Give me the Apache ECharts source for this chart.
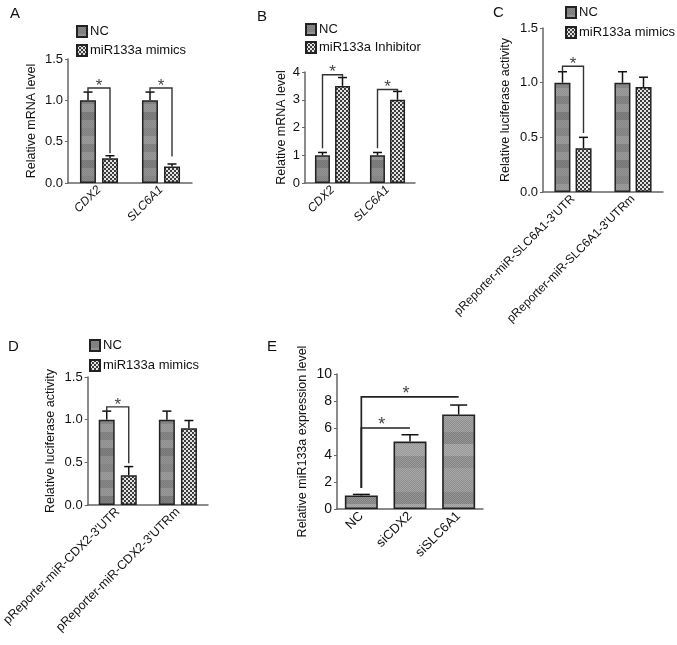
<!DOCTYPE html>
<html><head><meta charset="utf-8">
<script src="https://cdn.jsdelivr.net/npm/echarts@6/dist/echarts.min.js"></script>
<style>html,body{margin:0;padding:0;background:#fff}#c{width:677px;height:645px}</style>
</head><body><div id="c"></div>
<script>
// ---------- data ----------
const catsA = ['CDX2', 'SLC6A1'];
const ncA = [1.0, 1.0];
const ncErrA = [0.1, 0.1];
const mimA = [0.3, 0.2];
const mimErrA = [0.03, 0.03];
const bracketsA = [[0, 1.15, 1.1, 0.36], [1, 1.15, 1.1, 0.32]];

const catsB = ['CDX2', 'SLC6A1'];
const ncB = [1.0, 1.0];
const ncErrB = [0.1, 0.1];
const inhB = [3.5, 3.0];
const inhErrB = [0.3, 0.3];
const bracketsB = [[0, 3.9, 1.25, 3.8], [1, 3.37, 1.25, 3.3]];

const catsC = ["pReporter-miR-SLC6A1-3'UTR", "pReporter-miR-SLC6A1-3'UTRm"];
const ncC = [1.0, 1.0];
const ncErrC = [0.1, 0.1];
const mimC = [0.4, 0.96];
const mimErrC = [0.1, 0.09];
const bracketsC = [[0, 1.15, 1.1, 0.54]];

const catsD = ["pReporter-miR-CDX2-3'UTR", "pReporter-miR-CDX2-3'UTRm"];
const ncD = [1.0, 1.0];
const ncErrD = [0.1, 0.1];
const mimD = [0.35, 0.9];
const mimErrD = [0.1, 0.09];
const bracketsD = [[0, 1.15, 1.1, 0.49]];

const catsE = ['NC', 'siCDX2', 'siSLC6A1'];
const valE = [1.0, 5.0, 7.0];
const errE = [0.08, 0.5, 0.7];
const bracketsE = [[0, 2, 8.3, 1.55], [0, 1, 6.0, 1.55]];

const yTicksA = [0, 0.5, 1.0, 1.5];
const yTicksB = [0, 1, 2, 3, 4];
const yTicksC = [0, 0.5, 1.0, 1.5];
const yTicksD = [0, 0.5, 1.0, 1.5];
const yTicksE = [0, 2, 4, 6, 8, 10];

// ---------- patterns ----------
function ncPattern() {
  const c = document.createElement('canvas'); c.width = 2; c.height = 48;
  const g = c.getContext('2d');
  const bands = ['#878787', '#999999', '#808080', '#939393', '#8b8b8b', '#9d9d9d'];
  for (let i = 0; i < 6; i++) { g.fillStyle = bands[i]; g.fillRect(0, i * 8, 2, 8); }
  g.fillStyle = 'rgba(0,0,0,0.08)';
  for (let y = 0; y < 48; y++) g.fillRect(y % 2, y, 1, 1);
  return { image: c, repeat: 'repeat' };
}
function checkPattern() {
  const c = document.createElement('canvas'); c.width = 4; c.height = 4;
  const g = c.getContext('2d');
  g.fillStyle = '#e4e4e4'; g.fillRect(0, 0, 4, 4);
  g.fillStyle = '#3c3c3c'; g.fillRect(0, 0, 2, 2); g.fillRect(2, 2, 2, 2);
  return { image: c, repeat: 'repeat' };
}
function ePattern() {
  const c = document.createElement('canvas'); c.width = 2; c.height = 60;
  const g = c.getContext('2d');
  const bands = ['#8f8f8f', '#7e7e7e', '#9a9a9a', '#858585', '#939393'];
  for (let i = 0; i < 5; i++) { g.fillStyle = bands[i]; g.fillRect(0, i * 12, 2, 12); }
  g.fillStyle = 'rgba(255,255,255,0.18)';
  for (let y = 0; y < 60; y++) g.fillRect(y % 2, y, 1, 1);
  return { image: c, repeat: 'repeat' };
}
const NCFILL = ncPattern(), CHFILL = checkPattern(), EFILL = ePattern();

const FONT = 'Liberation Sans, Arial, sans-serif';
const AX = '#666', TXT = '#111', LINE = '#333';

// ---------- helpers ----------
function errSeries(gi, vals, errs, off, cap) {
  return {
    type: 'custom', xAxisIndex: gi, yAxisIndex: gi, clip: false, z: 5,
    data: vals.map((v, i) => [i, v, errs[i]]),
    renderItem(params, api) {
      const i = api.value(0), v = api.value(1), e = api.value(2);
      const p0 = api.coord([i, v]), p1 = api.coord([i, v + e]);
      const x = p0[0] + off;
      return { type: 'group', children: [
        { type: 'line', shape: { x1: x, y1: p0[1], x2: x, y2: p1[1] }, style: { stroke: '#111', lineWidth: 1.5 } },
        { type: 'line', shape: { x1: x - cap / 2, y1: p1[1], x2: x + cap / 2, y2: p1[1] }, style: { stroke: '#111', lineWidth: 1.5 } }
      ] };
    }
  };
}
function star(x, y, fs) {
  return { type: 'text', x: x, y: y, style: { text: '*', fontSize: fs, fontFamily: FONT, fill: '#444', align: 'center', verticalAlign: 'middle' } };
}
function bracketSeries(gi, data, off) {
  return {
    type: 'custom', xAxisIndex: gi, yAxisIndex: gi, clip: false, z: 6,
    data: data, encode: { x: 0, y: 1 },
    renderItem(params, api) {
      const i = api.value(0), t = api.value(1), lb = api.value(2), rb = api.value(3);
      const pt = api.coord([i, t]);
      const yl = api.coord([i, lb])[1], yr = api.coord([i, rb])[1];
      const xl = pt[0] - off, xr = pt[0] + off;
      return { type: 'group', children: [
        { type: 'polyline', shape: { points: [[xl, yl], [xl, pt[1]], [xr, pt[1]], [xr, yr]] }, style: { stroke: LINE, lineWidth: 1.4, fill: null } },
        star((xl + xr) / 2, pt[1] - 2, 17)
      ] };
    }
  };
}
function bracketSeriesE(gi, data) {
  return {
    type: 'custom', xAxisIndex: gi, yAxisIndex: gi, clip: false, z: 6,
    data: data, encode: { x: 0, y: 2 },
    renderItem(params, api) {
      const a = api.value(0), b = api.value(1), t = api.value(2), lb = api.value(3);
      const pa = api.coord([a, t]), pb = api.coord([b, t]);
      const yl = api.coord([a, lb])[1];
      return { type: 'group', children: [
        { type: 'polyline', shape: { points: [[pa[0], yl], [pa[0], pa[1]], [pb[0], pb[1]]] }, style: { stroke: '#222', lineWidth: 1.7, fill: null } },
        star((pa[0] + pb[0]) / 2 - 4, pa[1] - 3, 18)
      ] };
    }
  };
}
function xAx(gi, cats, italic, fs) {
  return {
    type: 'category', gridIndex: gi, data: cats,
    axisLine: { lineStyle: { color: AX, width: 1.5 } },
    axisTick: { alignWithLabel: true, length: 3, lineStyle: { color: AX } },
    axisLabel: { rotate: 45, fontSize: fs, margin: 5, color: TXT, fontFamily: FONT, fontStyle: italic ? 'italic' : 'normal', interval: 0 }
  };
}
function yAx(gi, ticks, dec, name, gap, fs) {
  return {
    type: 'value', gridIndex: gi, min: ticks[0], max: ticks[ticks.length - 1], interval: ticks[1] - ticks[0],
    name: name, nameLocation: 'middle', nameGap: gap,
    nameTextStyle: { fontSize: 12.5, color: TXT, fontFamily: FONT },
    axisLine: { show: true, lineStyle: { color: AX, width: 1.5 } },
    axisTick: { show: true, length: 3, lineStyle: { color: AX } },
    splitLine: { show: false },
    axisLabel: { fontSize: fs, color: TXT, fontFamily: FONT, margin: 5, formatter: v => v.toFixed(dec) }
  };
}
function bar(gi, name, vals, fill, bw, gap) {
  return {
    type: 'bar', name: name, xAxisIndex: gi, yAxisIndex: gi, data: vals,
    barWidth: bw, barGap: gap,
    itemStyle: { color: fill, borderColor: '#222', borderWidth: 1.5 }
  };
}
function legend(left, top, names, gap) {
  return {
    orient: 'vertical', left: left, top: top, data: names, itemWidth: 10, itemHeight: 11, itemGap: gap,
    icon: 'rect', selectedMode: false, padding: 0,
    textStyle: { fontSize: 13, color: TXT, fontFamily: FONT, padding: [0, 0, 0, -2] }
  };
}

const option = {
  backgroundColor: '#fff',
  animation: false,
  title: [
    { text: 'A', left: 5, top: 1 }, { text: 'B', left: 252, top: 4 }, { text: 'C', left: 488, top: 0 },
    { text: 'D', left: 3, top: 334 }, { text: 'E', left: 262, top: 334 }
  ].map(t => Object.assign(t, { textStyle: { fontSize: 15, fontWeight: 'normal', color: TXT, fontFamily: FONT } })),
  legend: [
    legend(76, 25, ['NC', 'miR133a mimics'], 6),
    legend(305, 23, ['NC', 'miR133a Inhibitor'], 5),
    legend(565, 6, ['NC', 'miR133a mimics'], 7),
    legend(89, 339, ['NC', 'miR133a mimics'], 7)
  ],
  grid: [
    { left: 68, top: 59, width: 124, height: 124 },
    { left: 305, top: 72, width: 110, height: 111 },
    { left: 543, top: 28, width: 120, height: 164 },
    { left: 83, top: 377, width: 125, height: 128 },
    { left: 337, top: 374, width: 146, height: 135 }
  ],
  xAxis: [xAx(0, catsA, true, 12), xAx(1, catsB, true, 12), xAx(2, catsC, false, 12), xAx(3, catsD, false, 12.5), xAx(4, catsE, false, 13)],
  yAxis: [
    yAx(0, yTicksA, 1, 'Relative mRNA level', 30, 13),
    yAx(1, yTicksB, 0, 'Relative mRNA level', 17, 13),
    yAx(2, yTicksC, 1, 'Relative luciferase activity', 31, 13),
    yAx(3, yTicksD, 1, 'Relative luciferase activity', 31, 13),
    yAx(4, yTicksE, 0, 'Relative miR133a expression level', 28, 14)
  ],
  series: [
    bar(0, 'NC', ncA, NCFILL, 16, '38%'), bar(0, 'miR133a mimics', mimA, CHFILL, 16, '38%'),
    errSeries(0, ncA, ncErrA, -11, 9), errSeries(0, mimA, mimErrA, 11, 9),
    bracketSeries(0, bracketsA, 11),

    bar(1, 'NC', ncB, NCFILL, 15, '34%'), bar(1, 'miR133a Inhibitor', inhB, CHFILL, 15, '34%'),
    errSeries(1, ncB, ncErrB, -10, 9), errSeries(1, inhB, inhErrB, 10, 9),
    bracketSeries(1, bracketsB, 10),

    bar(2, 'NC', ncC, NCFILL, 16, '32%'), bar(2, 'miR133a mimics', mimC, CHFILL, 16, '32%'),
    errSeries(2, ncC, ncErrC, -10.5, 9), errSeries(2, mimC, mimErrC, 10.5, 9),
    bracketSeries(2, bracketsC, 10.5),

    bar(3, 'NC', ncD, NCFILL, 16, '38%'), bar(3, 'miR133a mimics', mimD, CHFILL, 16, '38%'),
    errSeries(3, ncD, ncErrD, -11, 9), errSeries(3, mimD, mimErrD, 11, 9),
    bracketSeries(3, bracketsD, 11),

    { type: 'bar', xAxisIndex: 4, yAxisIndex: 4, data: valE, barWidth: 33, itemStyle: { color: EFILL, borderColor: '#222', borderWidth: 1.6 } },
    errSeries(4, valE, errE, 0, 17),
    bracketSeriesE(4, bracketsE)
  ]
};
const chart = echarts.init(document.getElementById('c'), null, { renderer: 'canvas' });
chart.setOption(option);
</script></body></html>
